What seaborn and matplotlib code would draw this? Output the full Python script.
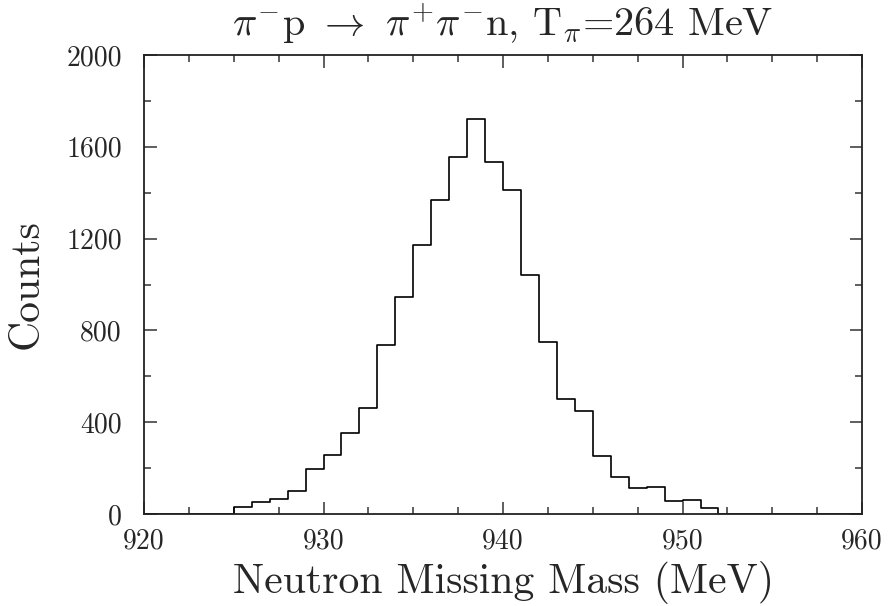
import numpy as np
import pandas as pd
import matplotlib
matplotlib.use("Agg")
import matplotlib.pyplot as plt
from matplotlib.ticker import MultipleLocator
import seaborn as sns

# bin low edges (MeV) and counts
bin_lo = list(range(920, 960))
counts = [0, 0, 0, 0, 0,
          30, 51, 67, 99, 194, 257, 351, 461, 736, 945,
          1172, 1370, 1554, 1720, 1532, 1414, 1041, 749, 499, 449,
          251, 161, 113, 116, 55, 62, 25,
          0, 0, 0, 0, 0, 0, 0, 0]

x_ticks = [920, 930, 940, 950, 960]
y_ticks = [0, 400, 800, 1200, 1600, 2000]

df = pd.DataFrame({"mass": np.array(bin_lo) + 0.5, "counts": counts})

sns.set_style("ticks")
plt.rcParams["font.family"] = ["cmr10", "Liberation Serif", "DejaVu Serif"]
plt.rcParams["mathtext.fontset"] = "cm"
plt.rcParams["axes.formatter.use_mathtext"] = True
plt.rcParams["axes.unicode_minus"] = False

fig = plt.figure(figsize=(8.88, 6.06), dpi=100)
ax = fig.add_axes([0.1622, 0.1518, 0.8086, 0.7574])

sns.histplot(data=df, x="mass", weights="counts", binwidth=1, binrange=(920, 960),
             element="step", fill=False, color="black", linewidth=1.2, ax=ax)

ax.set_xlim(920, 960)
ax.set_ylim(0, 2000)
ax.set_xticks(x_ticks, [str(v) for v in x_ticks])
ax.set_yticks(y_ticks, [str(v) for v in y_ticks])
ax.xaxis.set_minor_locator(MultipleLocator(2.5))
ax.yaxis.set_minor_locator(MultipleLocator(200))
ax.tick_params(which="both", direction="in", top=True, right=True, width=1.1, color="#333333")
ax.tick_params(which="major", length=9)
ax.tick_params(which="minor", length=5)
ax.tick_params(axis="x", which="major", labelsize=20, pad=10)
ax.tick_params(axis="y", which="major", labelsize=20, pad=16)
for s in ax.spines.values():
    s.set_linewidth(1.3)
    s.set_color("#222222")

ax.set_xlabel("Neutron Missing Mass (MeV)", fontsize=30, labelpad=5)
ax.set_ylabel("Counts", fontsize=30, labelpad=15)
ax.set_title(r"$\pi^{-}$p $\rightarrow$ $\pi^{+}\pi^{-}$n, T$_{\pi}$=264 MeV", fontsize=29, pad=14)

fig.savefig("out.png", dpi=100)
